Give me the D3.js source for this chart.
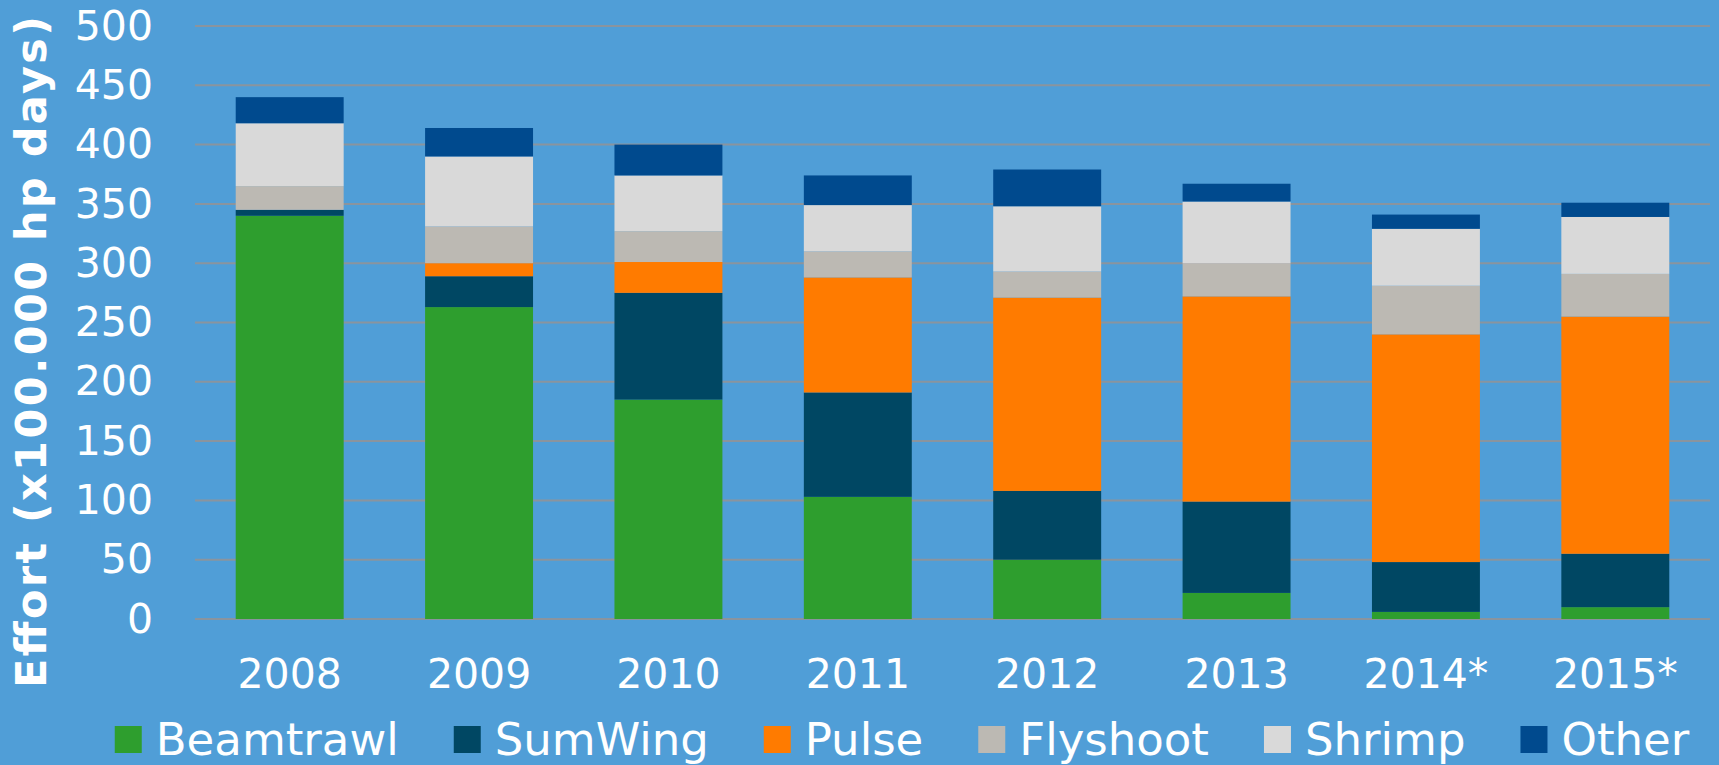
<!DOCTYPE html>
<html>
<head>
<meta charset="utf-8">
<script src="https://cdn.jsdelivr.net/npm/d3@7"></script>
<style>
  html, body { margin: 0; padding: 0; background: #509ed7; }
  svg { display: block; }
  text { font-family: 'DejaVu Sans', sans-serif; fill: #fff; }
</style>
</head>
<body>
<div id="chart"></div>
<script>
const years = ['2008', '2009', '2010', '2011', '2012', '2013', '2014*', '2015*'];
const seriesNames = ['Beamtrawl', 'SumWing', 'Pulse', 'Flyshoot', 'Shrimp', 'Other'];
const beamtrawl = [340, 263, 185, 103, 50, 22, 6, 10];
const sumWing = [5, 26, 90, 88, 58, 77, 42, 45];
const pulse = [0, 11, 26, 97, 163, 173, 192, 200];
const flyshoot = [20, 31, 26, 22, 22, 28, 41, 36];
const shrimp = [53, 59, 47, 39, 55, 52, 48, 48];
const other = [22, 24, 26, 25, 31, 15, 12, 12];
const yTicks = [0, 50, 100, 150, 200, 250, 300, 350, 400, 450, 500];
const colors = ['#2e9e2e', '#004763', '#ff7b00', '#bcb9b3', '#d9d9d9', '#004a8e'];

const width = 1719;
const height = 765;
const margin = { top: 26, right: 9, bottom: 146, left: 195 };

const rows = years.map((y, i) => ({
  year: y,
  Beamtrawl: beamtrawl[i],
  SumWing: sumWing[i],
  Pulse: pulse[i],
  Flyshoot: flyshoot[i],
  Shrimp: shrimp[i],
  Other: other[i],
}));

const svg = d3.select('#chart').append('svg')
  .attr('width', width)
  .attr('height', height);

svg.append('rect')
  .attr('width', width)
  .attr('height', height)
  .attr('fill', '#509ed7');

const x = d3.scaleBand()
  .domain(years)
  .range([margin.left, width - margin.right])
  .paddingInner(0.43)
  .paddingOuter(0.215);

const y = d3.scaleLinear()
  .domain([0, 500])
  .range([height - margin.bottom, margin.top]);

const color = d3.scaleOrdinal().domain(seriesNames).range(colors);

// gridlines
svg.append('g')
  .selectAll('line')
  .data(yTicks)
  .join('line')
  .attr('x1', margin.left)
  .attr('x2', width - margin.right)
  .attr('y1', d => y(d))
  .attr('y2', d => y(d))
  .attr('stroke', '#8a949e')
  .attr('stroke-width', 2);

// y axis labels
const yAxis = svg.append('g')
  .attr('transform', `translate(${margin.left},0)`)
  .call(d3.axisLeft(y).tickValues(yTicks).tickSize(0).tickPadding(42));
yAxis.select('.domain').remove();
yAxis.selectAll('text')
  .attr('fill', '#fff')
  .style('font-family', "'DejaVu Sans', sans-serif")
  .style('font-size', '41px');

// bars
const stack = d3.stack().keys(seriesNames);
const layers = stack(rows);

svg.append('g')
  .selectAll('g')
  .data(layers)
  .join('g')
  .attr('fill', d => color(d.key))
  .selectAll('rect')
  .data(d => d)
  .join('rect')
  .attr('x', d => x(d.data.year))
  .attr('width', x.bandwidth())
  .attr('y', d => y(d[1]))
  .attr('height', d => y(d[0]) - y(d[1]));

// x axis labels
const xAxis = svg.append('g')
  .attr('transform', `translate(0,${height - margin.bottom})`)
  .call(d3.axisBottom(x).tickSize(0).tickPadding(40));
xAxis.select('.domain').remove();
xAxis.selectAll('text')
  .attr('fill', '#fff')
  .style('font-family', "'DejaVu Sans', sans-serif")
  .style('font-size', '41px');

// y title
svg.append('text')
  .attr('transform', 'translate(46,352) rotate(-90)')
  .attr('text-anchor', 'middle')
  .attr('textLength', 672)
  .attr('lengthAdjust', 'spacing')
  .style('font-weight', 'bold')
  .style('font-size', '43px')
  .text('Effort (x100.000 hp days)');

// legend
const gap = 55;
const legend = svg.append('g');
const items = legend.selectAll('g')
  .data(seriesNames)
  .join('g');
items.append('rect')
  .attr('width', 27)
  .attr('height', 27)
  .attr('y', 726)
  .attr('fill', d => color(d));
items.append('text')
  .attr('x', 41)
  .attr('y', 755)
  .style('font-size', '45px')
  .text(d => d);

const widths = items.nodes().map(n => 41 + d3.select(n).select('text').node().getComputedTextLength());
const total = d3.sum(widths) + gap * (widths.length - 1);
let cursor = 902 - total / 2;
items.each(function (d, i) {
  d3.select(this).attr('transform', `translate(${cursor},0)`);
  cursor += widths[i] + gap;
});
</script>
</body>
</html>
